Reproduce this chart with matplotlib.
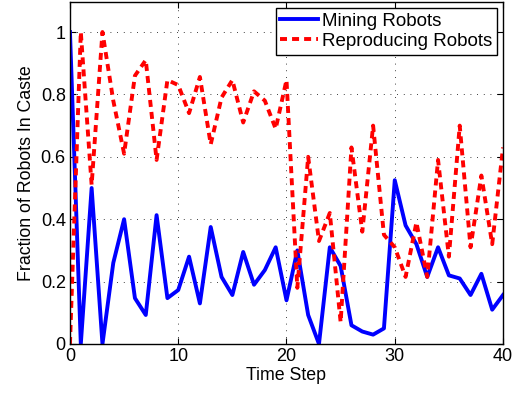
import numpy as np
import matplotlib
matplotlib.use("Agg")
import matplotlib.pyplot as plt

plt.rcParams['font.family'] = ['Liberation Sans', 'DejaVu Sans']

time_step = np.arange(0, 41)

# fraction of robots in each caste
mining = [1.00, 0.00, 0.50, 0.00, 0.26, 0.40, 0.147, 0.093, 0.413, 0.147,
          0.173, 0.28, 0.13, 0.375, 0.215, 0.157, 0.295, 0.19, 0.237, 0.31,
          0.14, 0.30, 0.093, 0.00, 0.31, 0.25, 0.06, 0.04, 0.03, 0.05,
          0.525, 0.38, 0.32, 0.215, 0.31, 0.22, 0.21, 0.157, 0.225, 0.11,
          0.157]
reproducing = [0.00, 1.00, 0.51, 1.00, 0.78, 0.61, 0.86, 0.91, 0.59, 0.846,
               0.83, 0.74, 0.856, 0.64, 0.79, 0.846, 0.71, 0.81, 0.78, 0.69,
               0.846, 0.18, 0.60, 0.33, 0.42, 0.07, 0.63, 0.36, 0.70, 0.35,
               0.31, 0.215, 0.39, 0.215, 0.59, 0.28, 0.70, 0.31, 0.54, 0.32,
               0.63]

fig = plt.figure(figsize=(5.23, 3.93), dpi=100)
ax = fig.add_axes([0.1338, 0.1247, 0.828, 0.870])

ax.plot(time_step, mining, color='blue', lw=2.8, label='Mining Robots')
ax.plot(time_step, reproducing, color='red', lw=2.8, ls=(0, (1.8, 1.3)),
        label='Reproducing Robots')

ax.set_xlim(0, 40)
ax.set_ylim(0, 1.096)
ax.set_xticks([0, 10, 20, 30, 40])
ax.set_yticks([0, 0.2, 0.4, 0.6, 0.8, 1])
ax.set_yticklabels(['0', '0.2', '0.4', '0.6', '0.8', '1'])
ax.tick_params(direction='in', top=True, right=True, labelsize=13,
               length=4, width=0.8, pad=3)
ax.grid(True, color='black', ls=(0, (1, 7)), lw=0.6)
for sp in ax.spines.values():
    sp.set_linewidth(1.0)

ax.set_xlabel('Time Step', fontsize=12.8, labelpad=1)
ax.set_ylabel('Fraction of Robots In Caste', fontsize=12.8, labelpad=4)

leg = ax.legend(loc='upper right', fontsize=13.5, frameon=True, fancybox=False,
                edgecolor='black', framealpha=1, borderpad=0.25,
                handlelength=2.0, handletextpad=0.25, labelspacing=0.17,
                borderaxespad=0.3)
leg.get_frame().set_linewidth(1.0)

fig.savefig('out.png', dpi=100)
